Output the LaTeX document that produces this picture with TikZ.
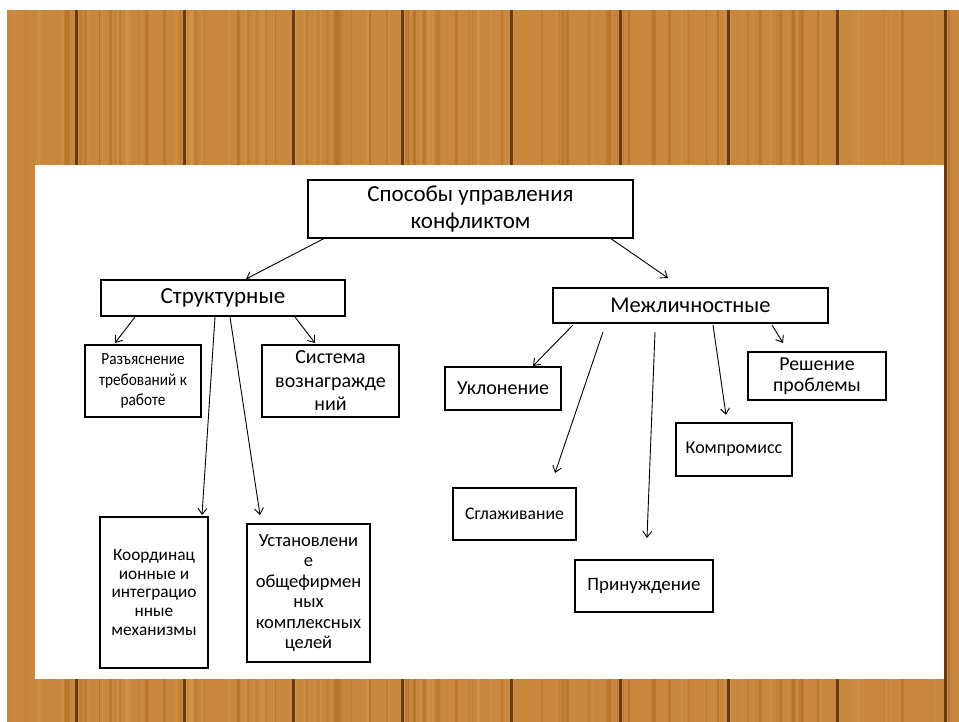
\documentclass[tikz,border=0pt]{standalone}
\usepackage{fontspec}
\setmainfont{Carlito}
\usetikzlibrary{arrows.meta}
\definecolor{wood}{HTML}{C8873C}
\definecolor{woodlight}{HTML}{D89A4E}
\definecolor{wooddark}{HTML}{A8661F}
\definecolor{groove}{HTML}{6A3A0E}
\begin{document}
\begin{tikzpicture}[x=1pt,y=-1pt,
  box/.style={draw=black, line width=1.8pt, fill=white, align=center, inner sep=0pt},
  conn/.style={-{Straight Barb[length=6pt,width=9pt,line width=0.9pt]}, line width=0.9pt, black},
  fs/.style n args={2}{font=\fontsize{#1}{#2}\selectfont}]
% page and wood background
\useasboundingbox (0,0) rectangle (959,722);
\fill[white] (0,0) rectangle (959,722);
\fill[wood] (7,10) rectangle (959,722);
\pgfmathsetseed{7}
\foreach \i in {1,...,160}{
  \pgfmathsetmacro{\xx}{7+952*rnd}
  \pgfmathsetmacro{\ww}{0.8+3*rnd}
  \pgfmathsetmacro{\op}{0.15+0.35*rnd}
  \pgfmathparse{rnd>0.5 ? 1 : 0}
  \ifnum\pgfmathresult=1
    \fill[woodlight, opacity=\op] (\xx,10) rectangle ++(\ww,712);
  \else
    \fill[wooddark, opacity=\op] (\xx,10) rectangle ++(\ww,712);
  \fi
}
\foreach \gx in {76,184,293,402,511,620,728,837,945}{
  \fill[groove] (\gx-1.5,10) rectangle (\gx+1.5,722);
  \fill[woodlight, opacity=0.6] (\gx+1.5,10) rectangle (\gx+3,722);
}
% white panel
\fill[white] (35,165) rectangle (944,679);

% nodes
\node[box, minimum width=325pt, minimum height=58pt, fs={23}{27}] (top) at (470.5,209) {Способы управления\\конфликтом};
\node[box, minimum width=244pt, minimum height=36pt, fs={23}{24}] (str) at (223,298) {Структурные};
\node[box, minimum width=275pt, minimum height=35pt, fs={22.5}{24}] (mezh) at (690.5,305.5) {Межличностные};

\node[box, minimum width=116pt, minimum height=72pt, fs={17}{20.5}] (razj) at (143,381) {\addfontfeatures{FakeStretch=0.9}Разъяснение\\\addfontfeatures{FakeStretch=0.9}требований к\\\addfontfeatures{FakeStretch=0.9}работе};
\node[box, minimum width=137pt, minimum height=72pt, fs={20}{23.5}] (sist) at (330.5,381) {Система\\вознагражде\\ний};
\node[box, minimum width=108pt, minimum height=151pt, fs={17.3}{18.8}] (koord) at (154,592.5) {Координац\\ионные и\\интеграцио\\нные\\механизмы};
\node[box, minimum width=123pt, minimum height=138pt, fs={18.5}{20.5}] (ustan) at (308.5,593) {Установлени\\е\\общефирмен\\ных\\комплексных\\целей};

\node[box, minimum width=116pt, minimum height=43pt, fs={20}{21}] (ukl) at (503,388.5) {Уклонение};
\node[box, minimum width=138pt, minimum height=48pt, fs={19.8}{21.5}] (resh) at (817,376) {Решение\\проблемы};
\node[box, minimum width=116pt, minimum height=53pt, fs={18}{19}] (komp) at (734,449.5) {Компромисс};
\node[box, minimum width=123pt, minimum height=52pt, fs={17.7}{19}] (sgl) at (514.5,514) {Сглаживание};
\node[box, minimum width=138pt, minimum height=52pt, fs={18.9}{21}] (prin) at (644,586) {Принуждение};

% connector end points
\coordinate (t1) at (325,238); \coordinate (t1e) at (246,279);
\coordinate (t2) at (610,238); \coordinate (t2e) at (668,278);
\coordinate (s1) at (135,317); \coordinate (s1e) at (115,343);
\coordinate (s2) at (295,317); \coordinate (s2e) at (315,343);
\coordinate (s3) at (215,317); \coordinate (s3e) at (202,515);
\coordinate (s4) at (230,317); \coordinate (s4e) at (260,515);
\coordinate (m1) at (573,325); \coordinate (m1e) at (533,366);
\coordinate (m2) at (603,332); \coordinate (m2e) at (555,473);
\coordinate (m3) at (655,332); \coordinate (m3e) at (647,538);
\coordinate (m4) at (713,325); \coordinate (m4e) at (726,415);
\coordinate (m5) at (772,325); \coordinate (m5e) at (783,343);

\draw[conn] (t1) -- (t1e);
\draw[conn] (t2) -- (t2e);
\draw[conn] (s1) -- (s1e);
\draw[conn] (s2) -- (s2e);
\draw[conn] (s3) -- (s3e);
\draw[conn] (s4) -- (s4e);
\draw[conn] (m1) -- (m1e);
\draw[conn] (m2) -- (m2e);
\draw[conn] (m3) -- (m3e);
\draw[conn] (m4) -- (m4e);
\draw[conn] (m5) -- (m5e);
\end{tikzpicture}
\end{document}
